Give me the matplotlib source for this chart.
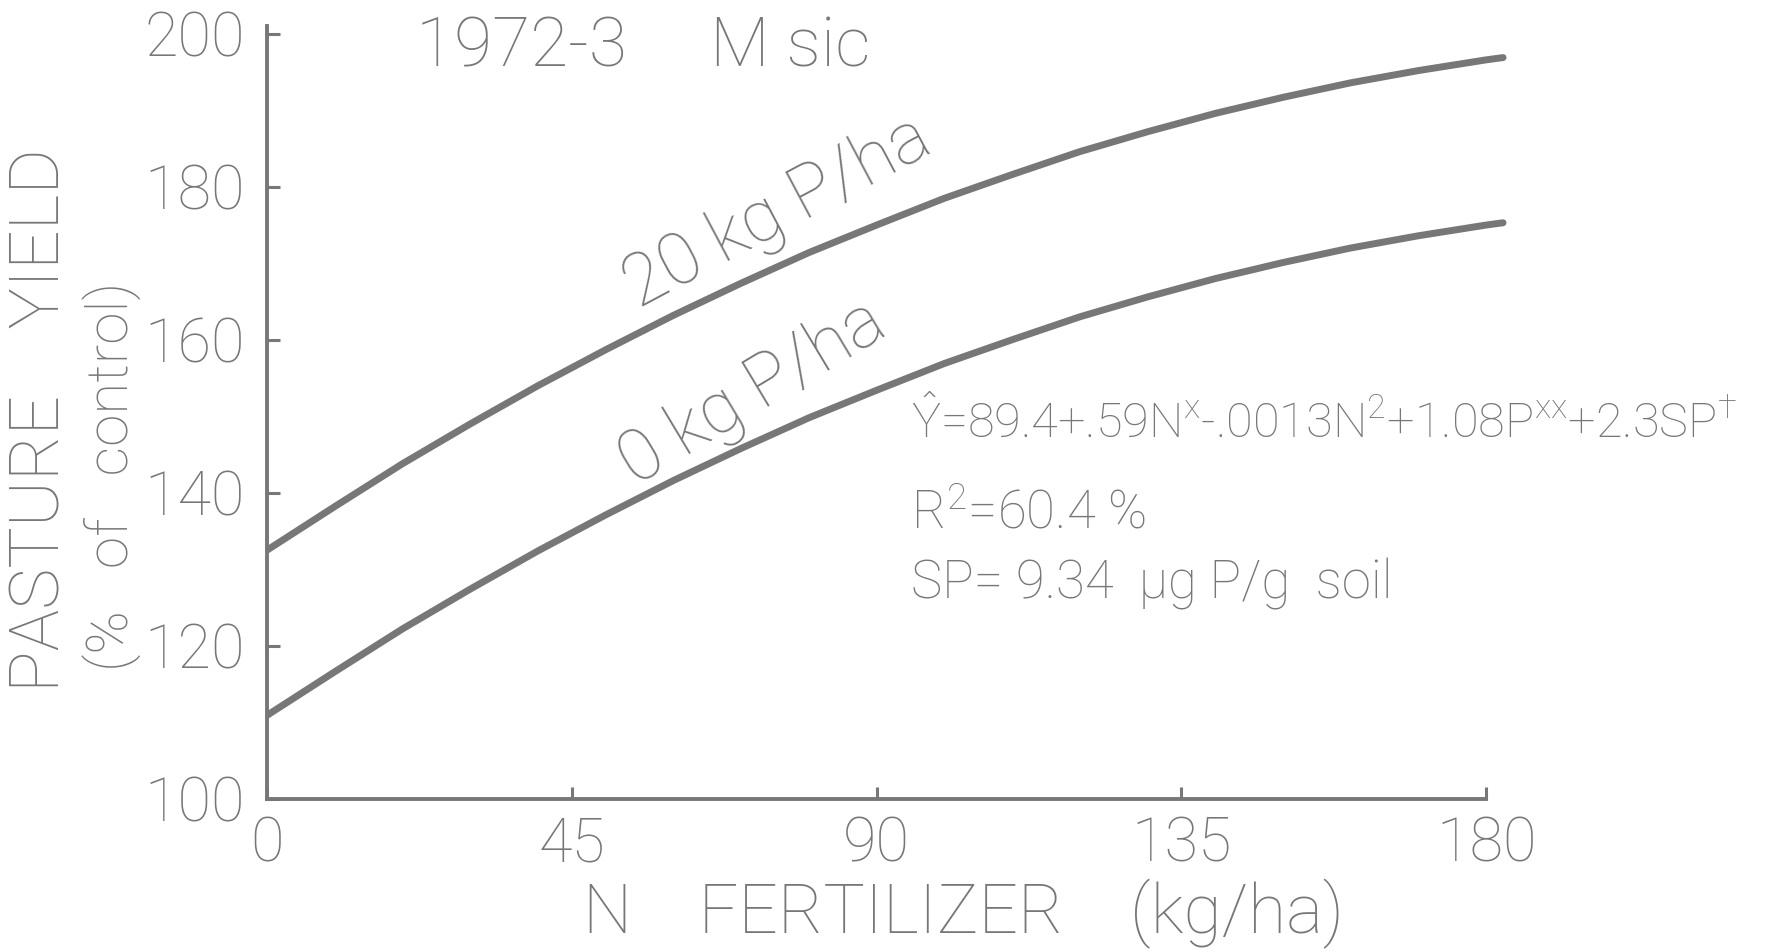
import matplotlib
matplotlib.use("Agg")
import matplotlib.pyplot as plt
import numpy as np

# N rate (kg/ha) and yields (% of control)
n_rate = [0, 10, 20, 30, 40, 50, 60, 70, 80, 90, 100, 110, 120, 130, 140, 150, 160, 170, 180, 182.5]
yield_p0 = [110.9, 116.6, 122.2, 127.4, 132.4, 137.1, 141.6, 145.8, 149.8, 153.4,
            156.9, 160.0, 163.0, 165.6, 168.0, 170.1, 172.0, 173.6, 175.0, 175.3]
yield_p20 = [132.5, 138.2, 143.8, 149.0, 154.0, 158.7, 163.2, 167.4, 171.4, 175.0,
             178.5, 181.6, 184.6, 187.2, 189.6, 191.7, 193.6, 195.2, 196.6, 196.9]

x_ticks = [0, 45, 90, 135, 180]
y_ticks = [100, 120, 140, 160, 180, 200]

ink = "#777777"
font = "Roboto"
weight = "light"
plt.rcParams["mathtext.fontset"] = "custom"
plt.rcParams["mathtext.rm"] = "Roboto:light"
plt.rcParams["mathtext.it"] = "Roboto:light"

fig = plt.figure(figsize=(17.68, 9.52), dpi=100)
ax = fig.add_axes([0.1511, 0.1611, 0.7048, 0.8194])

ax.plot(n_rate, yield_p20, color=ink, lw=5, solid_capstyle="round")
ax.plot(n_rate, yield_p0, color=ink, lw=5, solid_capstyle="round")

ax.set_xlim(0, 184)
ax.set_ylim(100, 202)
for side in ["top", "right"]:
    ax.spines[side].set_visible(False)
for side in ["left", "bottom"]:
    ax.spines[side].set_color(ink)
    ax.spines[side].set_linewidth(2.8)
ax.spines["bottom"].set_bounds(0, 180)
ax.spines["left"].set_bounds(100, 201)

ax.set_xticks(x_ticks)
ax.set_yticks(y_ticks)
ax.set_xticklabels([str(v) for v in x_ticks])
ax.set_yticklabels([str(v) for v in y_ticks])
ax.tick_params(direction="in", length=9, width=2.2, color=ink, labelcolor=ink,
               labelsize=44)
ax.tick_params(axis="x", pad=12)
ax.tick_params(axis="y", pad=16)
for lab in ax.get_xticklabels() + ax.get_yticklabels():
    lab.set_family(font)
    lab.set_weight(weight)

txt = dict(color=ink, family=font, weight=weight)

# annotations
ax.text(22, 198.2, "1972-3     M sic", fontsize=50, va="center", ha="left", **txt)
ax.text(75.4, 176.6, "20 kg P/ha", fontsize=52, va="center", ha="center",
        rotation=28, **txt)
ax.text(71.8, 153.0, "0 kg P/ha", fontsize=52, va="center", ha="center",
        rotation=31, **txt)
ax.text(95.1, 149.1,
        r"$\hat{\mathrm{Y}}$=89.4+.59N$^{\mathrm{x}}$-.0013N$^{2}$+1.08P$^{\mathrm{xx}}$+2.3SP$^{\dagger}$",
        fontsize=35, va="center", ha="left", **txt)
ax.text(95.1, 137.3, r"R$^{2}$=60.4 %", fontsize=38, va="center", ha="left", **txt)
ax.text(95.1, 128.0, "SP= 9.34  \u00b5g P/g  soil", fontsize=38, va="center",
        ha="left", **txt)

# axis titles
fig.text(0.023, 0.559, "PASTURE    YIELD", rotation=90, fontsize=50,
         va="center", ha="center", **txt)
fig.text(0.063, 0.50, "(%   of   control)", rotation=90, fontsize=42,
         va="center", ha="center", **txt)
fig.text(0.545, 0.04, "N    FERTILIZER    (kg/ha)", fontsize=50,
         va="center", ha="center", **txt)

fig.savefig("out.png", dpi=100, facecolor="white")
